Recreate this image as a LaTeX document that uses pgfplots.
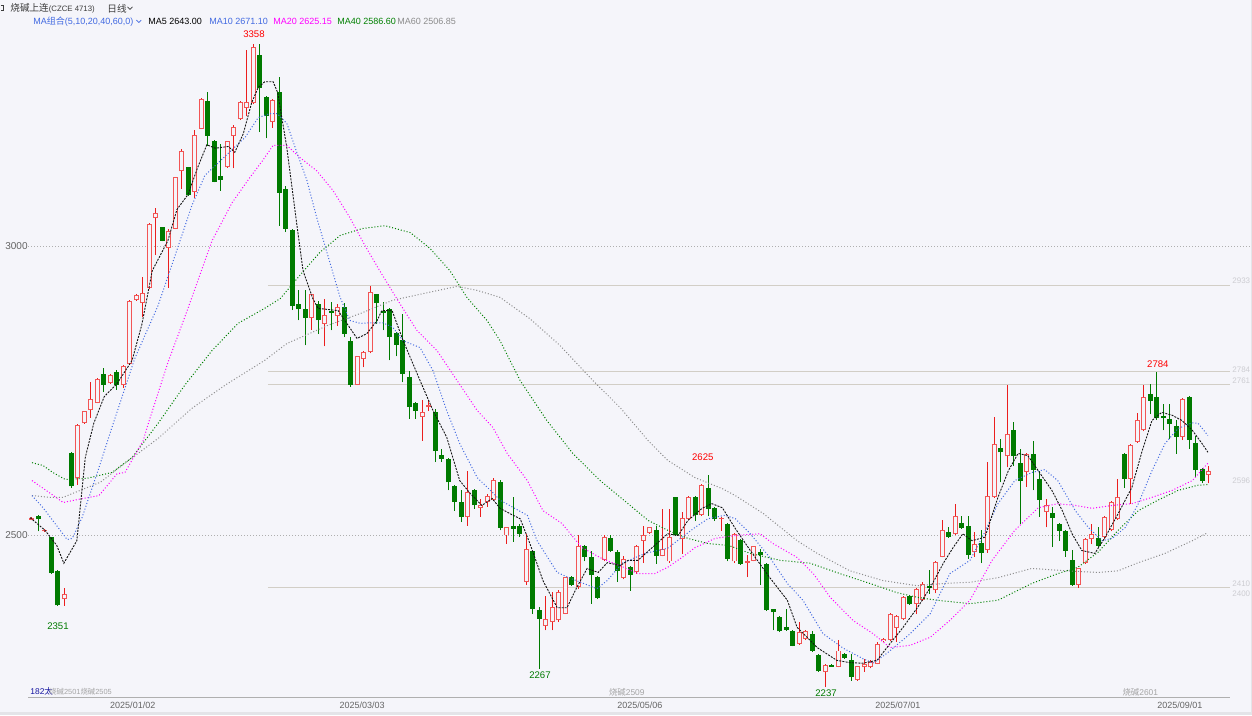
\documentclass[border=0pt]{standalone}
\usepackage{fontspec}
\setmainfont{Liberation Sans}
\newfontfamily\cjk{Noto Sans CJK SC}
\usepackage{pgfplots}
\usepackage{pgfplotstable}
\pgfplotsset{compat=1.18}
\definecolor{bg}{RGB}{245,245,250}
\definecolor{upred}{RGB}{235,30,30}
\definecolor{upbody}{RGB}{242,85,85}
\definecolor{dngreen}{RGB}{0,122,0}
\definecolor{maA}{RGB}{20,20,20}
\definecolor{maB}{RGB}{65,105,225}
\definecolor{maC}{RGB}{255,0,255}
\definecolor{maD}{RGB}{0,128,0}
\definecolor{maE}{RGB}{140,140,140}
\definecolor{hl}{RGB}{210,206,198}
\definecolor{txt}{RGB}{100,100,100}
\definecolor{hdr}{RGB}{60,60,60}
\definecolor{gridc}{RGB}{175,175,175}
\definecolor{navy}{RGB}{20,20,160}
\definecolor{lgray}{RGB}{165,165,165}
\definecolor{tagc}{RGB}{205,205,210}
\definecolor{strip}{RGB}{228,228,232}

\pgfplotstableread{
i o h l c
0 2527 2532 2526 2530
2 2507 2511 2506 2510
5 2390 2409 2378 2398
7 2600 2693 2588 2691
8 2694 2716 2693 2715
9 2717 2765 2704 2736
10 2730 2772 2729 2771
12 2763 2779 2762 2778
14 2760 2795 2755 2794
15 2796 2907 2795 2906
16 2907 2917 2906 2916
17 2902 2947 2878 2919
18 2928 3040 2927 3039
19 3049 3066 2985 3058
21 2998 3030 2929 3026
22 3031 3121 3030 3120
23 3130 3168 3100 3165
25 3094 3201 3084 3193
26 3204 3257 3203 3256
30 3137 3183 3136 3182
31 3191 3211 3135 3207
32 3220 3251 3219 3250
33 3240 3340 3225 3250
34 3248 3350 3246 3345
37 3215 3256 3205 3254
43 2877 2918 2856 2917
45 2866 2909 2827 2882
47 2880 2901 2862 2895
50 2761 2811 2760 2810
51 2805 2819 2791 2818
52 2817 2932 2815 2922
60 2705 2734 2664 2713
61 2722 2734 2715 2725
67 2532 2612 2517 2575
69 2548 2563 2532 2552
70 2558 2572 2550 2569
71 2562 2600 2560 2596
73 2500 2515 2486 2514
76 2420 2503 2414 2476
79 2344 2396 2336 2356
80 2350 2402 2336 2376
81 2353 2405 2350 2402
82 2365 2428 2364 2428
84 2411 2500 2408 2481
88 2457 2500 2455 2497
91 2427 2465 2424 2460
93 2437 2484 2434 2481
94 2491 2516 2452 2500
95 2505 2515 2503 2514
97 2465 2546 2464 2477
98 2455 2546 2453 2497
100 2494 2541 2468 2531
101 2529 2568 2527 2567
103 2535 2589 2534 2587
106 2529 2532 2508 2531
108 2455 2505 2452 2503
110 2453 2467 2428 2456
111 2456 2482 2455 2481
118 2313 2350 2311 2333
119 2321 2336 2319 2334
122 2264 2278 2237 2276
124 2273 2320 2272 2301
127 2250 2275 2249 2274
128 2272 2287 2264 2278
129 2272 2285 2270 2281
130 2278 2315 2277 2313
131 2317 2322 2316 2321
132 2320 2366 2317 2364
133 2340 2362 2316 2360
134 2355 2396 2353 2393
136 2382 2410 2364 2408
137 2388 2420 2386 2416
139 2405 2455 2400 2454
140 2463 2526 2462 2510
142 2502 2555 2500 2534
145 2472 2506 2463 2485
147 2475 2627 2470 2569
148 2566 2705 2565 2658
150 2637 2760 2618 2676
153 2610 2642 2584 2641
156 2541 2563 2514 2552
161 2415 2444 2410 2443
162 2452 2495 2451 2494
163 2494 2520 2485 2503
165 2497 2533 2494 2532
166 2509 2560 2507 2558
167 2529 2597 2527 2566
169 2598 2658 2555 2656
170 2662 2712 2660 2700
171 2682 2760 2680 2739
177 2670 2737 2665 2736
181 2605 2620 2590 2612
}\updata

\pgfplotstableread{
i o h l c
1 2533 2535 2507 2528
3 2497 2498 2433 2435
4 2438 2440 2378 2379
6 2643 2645 2583 2585
11 2780 2790 2748 2761
13 2783 2787 2752 2760
20 3033 3034 3009 3010
24 3137 3138 3088 3089
27 3252 3268 3174 3192
28 3183 3184 3111 3112
29 3122 3178 3096 3115
35 3332 3350 3198 3274
36 3258 3260 3187 3225
38 3268 3293 3036 3093
39 3099 3105 3025 3031
40 3028 3030 2890 2897
41 2901 2924 2872 2891
42 2892 2924 2829 2876
44 2900 2905 2849 2872
46 2888 2904 2855 2885
48 2895 2902 2843 2849
49 2836 2844 2757 2761
53 2917 2917 2866 2902
54 2889 2904 2855 2885
55 2892 2894 2803 2843
56 2850 2852 2810 2830
57 2839 2884 2765 2780
58 2775 2785 2702 2722
59 2729 2731 2702 2715
62 2713 2718 2627 2646
63 2640 2650 2627 2633
64 2633 2634 2578 2592
65 2586 2587 2543 2558
66 2558 2578 2523 2532
68 2578 2581 2546 2552
72 2592 2596 2509 2513
74 2516 2566 2489 2512
75 2516 2520 2497 2502
77 2473 2474 2364 2373
78 2371 2377 2269 2356
83 2428 2430 2413 2415
85 2481 2484 2455 2463
86 2463 2474 2382 2431
87 2428 2430 2390 2392
89 2496 2500 2472 2473
90 2471 2475 2420 2439
92 2445 2448 2404 2432
96 2509 2517 2451 2465
99 2566 2567 2499 2500
102 2567 2568 2525 2535
104 2583 2604 2533 2546
105 2548 2550 2525 2528
107 2520 2522 2455 2459
109 2493 2494 2449 2451
112 2471 2477 2415 2466
113 2451 2453 2370 2371
114 2372 2373 2336 2367
115 2359 2360 2333 2334
116 2342 2373 2335 2337
117 2334 2336 2308 2309
120 2330 2335 2299 2301
121 2294 2295 2264 2265
123 2276 2277 2273 2273
125 2295 2296 2287 2288
126 2285 2295 2249 2256
135 2396 2397 2380 2381
138 2412 2440 2399 2409
141 2506 2515 2496 2497
143 2522 2533 2512 2513
144 2516 2534 2460 2467
146 2487 2509 2452 2469
149 2652 2667 2592 2644
151 2683 2697 2620 2638
152 2626 2650 2520 2594
154 2641 2664 2578 2614
155 2598 2612 2532 2561
157 2539 2549 2480 2530
158 2520 2522 2491 2508
159 2507 2510 2463 2474
160 2457 2475 2413 2414
164 2496 2515 2480 2482
168 2641 2643 2582 2598
172 2745 2762 2710 2733
173 2740 2782 2700 2703
174 2707 2728 2682 2703
175 2701 2728 2667 2693
176 2690 2699 2641 2670
178 2740 2742 2650 2666
179 2660 2672 2601 2613
180 2615 2617 2590 2594
}\dndata

\pgfplotstableread{
i p
-0.3 2531
2.0 2509
3.8 2483
4.9 2452
6.9 2491
8.2 2635
9.5 2694
11.1 2740
13.1 2763
15.4 2803
16.9 2865
18.5 2958
20.9 3010
22.3 3064
24.0 3090
25.5 3137
26.9 3176
28.2 3170
30.2 3173
31.2 3163
32.5 3195
33.8 3249
34.8 3275
35.8 3285
37.1 3285
37.8 3266
39.2 3171
40.8 3033
41.7 2958
43.2 2910
44.0 2893
47.1 2889
50.0 2841
51.5 2849
53.1 2872
53.8 2889
55.4 2889
57.1 2837
59.7 2768
61.7 2716
63.8 2670
65.8 2595
67.4 2573
69.2 2552
70.8 2564
72.0 2547
73.5 2538
75.1 2529
76.6 2486
78.6 2422
80.8 2375
82.3 2375
83.8 2410
85.4 2443
87.1 2436
88.5 2453
90.5 2448
91.7 2457
93.2 2457
95.4 2479
97.8 2503
99.4 2500
100.9 2526
103.1 2547
104.6 2555
106.2 2548
108.2 2512
110.5 2474
113.5 2427
116.2 2388
117.7 2341
120.8 2306
123.8 2284
125.8 2280
127.8 2279
130.0 2284
132.0 2313
134.0 2341
136.2 2375
138.2 2410
140.2 2452
141.7 2479
143.2 2503
144.6 2491
146.6 2497
148.6 2566
150.2 2612
151.7 2642
153.2 2638
154.8 2612
156.9 2578
158.5 2543
160.0 2503
161.5 2474
163.5 2469
165.1 2497
167.1 2538
169.2 2583
170.8 2647
172.3 2699
173.8 2713
175.4 2708
176.9 2699
178.5 2682
180.0 2659
180.9 2644
}\maAdata

\pgfplotstableread{
i p
0 2569
1.7 2548
4.0 2514
5.4 2493
6.2 2495
7.7 2531
10.0 2607
12.3 2687
15.8 2806
19.4 2898
22.0 2984
24.6 3071
26.6 3123
29.7 3156
32.8 3189
34.8 3223
36.6 3230
37.7 3230
39.2 3213
40.8 3161
42.3 3114
43.8 3050
46.2 2958
47.4 2912
48.9 2872
50.5 2867
52.0 2868
54.0 2868
55.5 2860
57.1 2837
59.7 2825
61.7 2785
63.8 2716
65.8 2659
68.5 2600
70.9 2574
72.0 2561
76.2 2535
77.7 2491
80.8 2436
82.8 2426
86.9 2408
88.5 2422
90.8 2452
94.3 2469
97.8 2478
100.0 2497
102.0 2514
104.0 2529
106.6 2535
108.2 2529
110.5 2503
113.5 2462
116.2 2417
118.6 2388
121.7 2330
124.8 2305
127.8 2287
129.4 2279
131.5 2296
135.1 2330
138.2 2365
141.2 2434
144.3 2457
146.2 2497
148.6 2555
151.2 2595
153.8 2609
155.8 2614
157.8 2595
160.5 2543
162.5 2514
164.6 2491
166.2 2495
168.2 2514
170.2 2555
172.3 2612
174.3 2659
176.3 2685
178.5 2695
179.4 2694
180.9 2673
}\maBdata

\pgfplotstableread{
i p
0 2595
2.8 2573
4.8 2557
7.8 2564
10.3 2569
13.1 2607
14.3 2609
17.1 2664
17.9 2694
20.9 2799
24.0 2893
27.7 3010
30.8 3076
33.5 3119
35.5 3149
37.1 3175
39.2 3175
41.2 3154
43.8 3131
46.3 3097
48.9 3050
51.2 3002
53.5 2958
56.6 2901
59.2 2855
62.3 2820
65.4 2768
68.5 2716
70.9 2687
73.1 2642
76.2 2595
78.6 2543
81.5 2521
84.6 2479
87.7 2460
90.8 2446
93.2 2434
95.8 2434
97.8 2445
100.0 2462
102.0 2479
105.1 2495
108.2 2500
112.0 2503
114.0 2486
117.7 2462
120.2 2434
122.8 2393
126.3 2353
129.4 2330
132.0 2306
135.1 2310
138.2 2324
141.2 2353
144.3 2388
147.7 2457
151.2 2509
154.8 2548
157.8 2555
160.5 2552
163.1 2547
166.2 2552
169.2 2555
172.3 2566
175.4 2578
178.5 2595
180.9 2625
}\maCdata

\pgfplotstableread{
i p
0 2626
1.7 2621
3.2 2609
5.1 2597
8.5 2599
12.3 2609
15.4 2635
19.4 2694
23.5 2760
27.7 2820
31.7 2867
35.8 2893
38.2 2910
41.2 2950
44.3 2990
47.4 3019
50.8 3031
54.3 3036
58.2 3024
61.2 2997
64.3 2958
66.9 2912
70.0 2872
72.0 2837
75.1 2768
79.2 2699
83.2 2642
87.4 2595
91.7 2555
94.8 2526
97.8 2509
100.9 2495
104.0 2486
107.1 2483
110.5 2469
115.1 2457
119.7 2452
124.3 2434
128.9 2417
133.1 2401
136.2 2393
139.2 2388
144.3 2382
148.6 2388
153.8 2417
157.8 2434
160.9 2445
164.0 2471
167.1 2509
170.2 2543
173.2 2561
176.3 2578
179.4 2587
180.9 2588
}\maDdata

\pgfplotstableread{
i p
0 2569
2.8 2566
4.8 2566
7.4 2578
10.5 2592
14.3 2625
19.4 2668
24.6 2720
29.7 2760
35.8 2803
39.2 2832
45.4 2863
50.5 2884
55.5 2907
60.8 2920
65.4 2931
68.5 2924
72.0 2912
76.6 2875
81.2 2829
86.3 2768
90.5 2721
94.8 2664
97.8 2630
102.0 2600
106.2 2581
108.2 2569
112.5 2538
117.7 2491
120.8 2469
125.8 2439
130.9 2422
136.2 2413
140.2 2417
144.3 2419
148.6 2427
153.8 2443
158.9 2439
164.0 2436
167.1 2439
170.2 2453
174.3 2469
178.5 2491
180.9 2505
}\maEdata

\begin{document}
\begin{tikzpicture}
\fill[bg] (0,0) rectangle (626pt,357.5pt);
\fill[strip] (0,0) rectangle (626pt,1.5pt);
\draw[strip, line width=0.5pt] (625.6pt,1.5pt) -- (625.6pt,357.5pt);
\useasboundingbox (0,0) rectangle (626pt,357.5pt);
% header
\draw[hdr, line width=0.35pt] (0.3pt,355pt) -- (1.6pt,355pt) -- (1.6pt,352.4pt) -- (0.3pt,352.4pt);
\node[anchor=west, inner sep=0, font=\fontsize{4.8}{5}\selectfont, text=hdr] at (5pt,353.5pt) {{\cjk 烧碱上连}{\fontsize{3.9}{4}\selectfont (CZCE 4713)}};
\node[anchor=west, inner sep=0, font=\fontsize{4.8}{5}\selectfont\cjk, text=hdr] at (53.5pt,353.5pt) {日线};
\draw[line width=0.35pt, hdr] (63.8pt,354.3pt) -- (65pt,353.1pt) -- (66.2pt,354.3pt);
\node[anchor=west, inner sep=0, font=\fontsize{4.5}{5}\selectfont, text=maB] at (16.5pt,347pt) {MA{\cjk 组合}(5,10,20,40,60,0)};
\draw[line width=0.35pt, maB] (68.2pt,347.7pt) -- (69.4pt,346.5pt) -- (70.6pt,347.7pt);
\node[anchor=west, inner sep=0, font=\fontsize{4.5}{5}\selectfont, text=black] at (74pt,347pt) {MA5 2643.00};
\node[anchor=west, inner sep=0, font=\fontsize{4.5}{5}\selectfont, text=maB] at (104.5pt,347pt) {MA10 2671.10};
\node[anchor=west, inner sep=0, font=\fontsize{4.5}{5}\selectfont, text=maC] at (136.5pt,347pt) {MA20 2625.15};
\node[anchor=west, inner sep=0, font=\fontsize{4.5}{5}\selectfont, text=maD] at (168.5pt,347pt) {MA40 2586.60};
\node[anchor=west, inner sep=0, font=\fontsize{4.5}{5}\selectfont, text=maE] at (198.5pt,347pt) {MA60 2506.85};

\begin{axis}[
  at={(14pt,9pt)}, anchor=south west, scale only axis,
  width=601pt, height=333.5pt,
  xmin=-0.615, xmax=184.3, ymin=2219.7, ymax=3373.7,
  axis x line*=bottom, axis y line=none,
  x axis line style={draw=gridc, line width=0.5pt},
  xtick={15.5,50.8,93.5,133.2,176.6},
  xticklabels={2025/01/02,2025/03/03,2025/05/06,2025/07/01,2025/09/01},
  major tick length=0pt,
  xticklabel style={font=\fontsize{4.5}{5}\selectfont, text=txt, anchor=center, yshift=-4pt},
  ytick=\empty,
  clip=false,
]
% reference lines
\draw[gridc, densely dotted, line width=0.5pt] (axis cs:-0.615,3000) -- (axis cs:187.7,3000);
\draw[gridc, densely dotted, line width=0.5pt] (axis cs:-0.615,2500) -- (axis cs:187.7,2500);
\draw[hl, line width=0.5pt] (axis cs:36.3,2932.5) -- (axis cs:184.3,2932.5);
\draw[hl, line width=0.5pt] (axis cs:36.3,2784) -- (axis cs:184.3,2784);
\draw[hl, line width=0.5pt] (axis cs:36.3,2761) -- (axis cs:184.3,2761);
\draw[hl, line width=0.5pt] (axis cs:36.3,2410) -- (axis cs:184.3,2410);
\node[anchor=east, inner sep=0, font=\fontsize{5}{5}\selectfont, text=txt] at (axis cs:-0.615,3000) {3000};
\node[anchor=east, inner sep=0, font=\fontsize{5}{5}\selectfont, text=txt] at (axis cs:-0.615,2500) {2500};

% up candles
\addplot[draw=none, mark=none, forget plot,
  error bars/.cd, y dir=plus, y explicit, error mark=none,
  error bar style={draw=upred, line width=0.5pt}]
  table[x=i, y=l, y error expr={\thisrow{h}-\thisrow{l}}] {\updata};
\addplot[draw=none, mark=none, forget plot,
  error bars/.cd, y dir=plus, y explicit, error mark=none,
  error bar style={draw=upbody, line width=2.5pt}]
  table[x=i, y=o, y error expr={max(\thisrow{c}-\thisrow{o},1.5)}] {\updata};
\addplot[draw=none, mark=none, forget plot,
  error bars/.cd, y dir=plus, y explicit, error mark=none,
  error bar style={draw=bg, line width=1.5pt}]
  table[x=i, y expr={\thisrow{o}+1.7}, y error expr={max(\thisrow{c}-\thisrow{o}-3.4,0)}] {\updata};
% down candles
\addplot[draw=none, mark=none, forget plot,
  error bars/.cd, y dir=plus, y explicit, error mark=none,
  error bar style={draw=dngreen, line width=0.5pt}]
  table[x=i, y=l, y error expr={\thisrow{h}-\thisrow{l}}] {\dndata};
\addplot[draw=none, mark=none, forget plot,
  error bars/.cd, y dir=plus, y explicit, error mark=none,
  error bar style={draw=dngreen, line width=2.5pt}]
  table[x=i, y=c, y error expr={max(\thisrow{o}-\thisrow{c},1.5)}] {\dndata};

% moving averages
\addplot[maE, densely dotted, line width=0.5pt, mark=none] table[x=i,y=p] {\maEdata};
\addplot[maD, densely dotted, line width=0.5pt, mark=none] table[x=i,y=p] {\maDdata};
\addplot[maC, densely dotted, line width=0.5pt, mark=none] table[x=i,y=p] {\maCdata};
\addplot[maB, densely dotted, line width=0.5pt, mark=none] table[x=i,y=p] {\maBdata};
\addplot[maA, dash pattern=on 1pt off 0.6pt, line width=0.45pt, mark=none] table[x=i,y=p] {\maAdata};

% extreme labels
\node[font=\fontsize{4.8}{5}\selectfont, text=red] at (axis cs:34.15,3367) {3358};
\node[font=\fontsize{4.8}{5}\selectfont, text=dngreen] at (axis cs:4.0,2343) {2351};
\node[font=\fontsize{4.8}{5}\selectfont, text=dngreen] at (axis cs:78.15,2258) {2267};
\node[font=\fontsize{4.8}{5}\selectfont, text=red] at (axis cs:103.2,2635) {2625};
\node[font=\fontsize{4.8}{5}\selectfont, text=dngreen] at (axis cs:122.15,2228) {2237};
\node[font=\fontsize{4.8}{5}\selectfont, text=red] at (axis cs:173.2,2796) {2784};

% contract markers
\node[anchor=west, inner sep=0, font=\fontsize{4.2}{5}\selectfont, text=navy] at (axis cs:-0.3,2230) {182{\cjk 太}};
\node[anchor=west, inner sep=0, font=\fontsize{3.7}{5}\selectfont, text=lgray] at (axis cs:2.6,2229) {{\cjk 烧碱}2501{\cjk 烧碱}2505};
\node[anchor=center, inner sep=0, font=\fontsize{4.2}{5}\selectfont, text=lgray] at (axis cs:91.5,2229) {{\cjk 烧碱}2509};
\node[anchor=center, inner sep=0, font=\fontsize{4.2}{5}\selectfont, text=lgray] at (axis cs:170.5,2229) {{\cjk 烧碱}2601};

% right price tags
\node[anchor=west, inner sep=0, font=\fontsize{4}{4}\selectfont, text=tagc] at (axis cs:184.6,2941) {2933};
\node[anchor=west, inner sep=0, font=\fontsize{4}{4}\selectfont, text=tagc] at (axis cs:184.6,2786) {2784};
\node[anchor=west, inner sep=0, font=\fontsize{4}{4}\selectfont, text=tagc] at (axis cs:184.6,2768) {2761};
\node[anchor=west, inner sep=0, font=\fontsize{4}{4}\selectfont, text=tagc] at (axis cs:184.6,2595) {2596};
\node[anchor=west, inner sep=0, font=\fontsize{4}{4}\selectfont, text=tagc] at (axis cs:184.6,2417) {2410};
\node[anchor=west, inner sep=0, font=\fontsize{4}{4}\selectfont, text=tagc] at (axis cs:184.6,2400) {2400};
\end{axis}
\end{tikzpicture}
\end{document}
